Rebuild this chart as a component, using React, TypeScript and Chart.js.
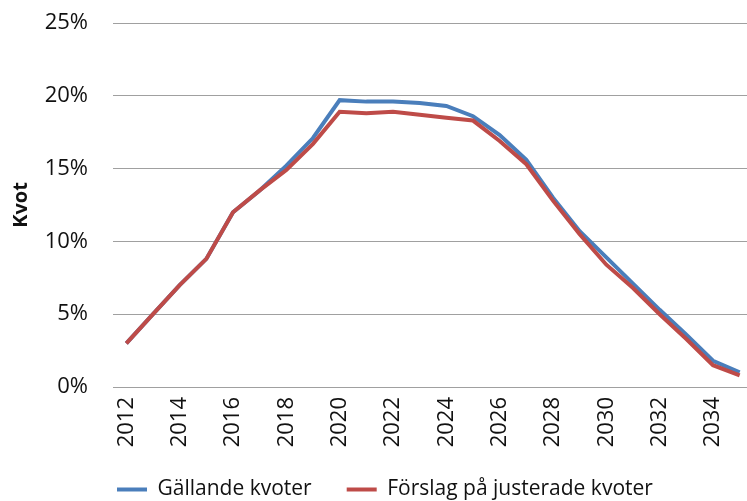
import { useEffect, useRef } from 'react';
import { Chart, registerables } from 'chart.js';

Chart.register(...registerables);

const years = [
  '2012', '2013', '2014', '2015', '2016', '2017', '2018', '2019', '2020', '2021', '2022', '2023',
  '2024', '2025', '2026', '2027', '2028', '2029', '2030', '2031', '2032', '2033', '2034', '2035',
];
const gallandeKvoter = [
  3.0, 5.0, 7.0, 8.8, 12.0, 13.5, 15.2, 17.1, 19.7, 19.6, 19.6, 19.5,
  19.3, 18.6, 17.3, 15.6, 13.0, 10.7, 8.9, 7.1, 5.3, 3.6, 1.8, 1.0,
];
const forslagKvoter = [
  3.0, 5.0, 7.0, 8.8, 12.0, 13.5, 14.9, 16.7, 18.9, 18.8, 18.9, 18.7,
  18.5, 18.3, 16.9, 15.3, 12.8, 10.5, 8.4, 6.8, 5.0, 3.3, 1.5, 0.8,
];
const yMin = 0;
const yMax = 25;
const yStep = 5;

const FONT = "'Open Sans', 'Liberation Sans', sans-serif";

const legendPlace = {
  id: 'legendPlace',
  afterLayout(chart: any) {
    const lg = chart.legend;
    if (!lg) return;
    const w = lg.right - lg.left;
    lg.left = 82;
    lg.right = 82 + w;
    lg.top = 444;
    lg.bottom = 501;
    lg.height = 57;
  },
};

export default function App() {
  const ref = useRef<HTMLCanvasElement | null>(null);

  useEffect(() => {
    if (!ref.current) return;
    const chart = new Chart(ref.current, {
      type: 'line',
      data: {
        labels: years,
        datasets: [
          {
            label: 'Gällande kvoter',
            data: gallandeKvoter,
            borderColor: '#4a7ebb',
            backgroundColor: '#4a7ebb',
            borderWidth: 4,
            pointRadius: 0,
            tension: 0,
            order: 1,
          },
          {
            label: 'Förslag på justerade kvoter',
            data: forslagKvoter,
            borderColor: '#be4b48',
            backgroundColor: '#be4b48',
            borderWidth: 4,
            pointRadius: 0,
            tension: 0,
            order: 0,
          },
        ],
      },
      options: {
        responsive: false,
        animation: false,
        layout: { padding: { top: 23, left: 0, right: 7, bottom: 0 } },
        plugins: {
          tooltip: { enabled: false },
          legend: {
            position: 'bottom',
            align: 'start',
            maxHeight: 44,
            labels: {
              boxWidth: 30,
              boxHeight: 4,
              padding: 35,
              color: '#111',
              font: { family: FONT, size: 21 },
              sort: (a: any, b: any) => a.datasetIndex - b.datasetIndex,
              generateLabels: (c: any) =>
                Chart.defaults.plugins.legend.labels.generateLabels(c).map((it: any) => ({
                  ...it,
                  fillStyle: it.strokeStyle,
                  lineWidth: 0,
                })),
            },
          },
        },
        scales: {
          x: {
            offset: true,
            grid: { display: false, drawTicks: false },
            border: { display: false },
            afterFit: (s: any) => {
              s.height = 70;
              s.paddingLeft = 0;
              s.paddingRight = 0;
            },
            ticks: {
              autoSkip: false,
              minRotation: 90,
              maxRotation: 90,
              padding: 10,
              color: '#111',
              font: { family: FONT, size: 22 },
              callback: (_v: any, i: number) => (i % 2 === 0 ? years[i] : ''),
            },
          },
          y: {
            min: yMin,
            max: yMax,
            grid: { color: '#a0a0a0', lineWidth: 1, drawTicks: false },
            border: { display: false },
            afterFit: (s: any) => {
              s.width = 113;
              s.paddingTop = 0;
              s.paddingBottom = 0;
            },
            ticks: {
              stepSize: yStep,
              padding: 25,
              color: '#111',
              font: { family: FONT, size: 22 },
              callback: (v: any) => `${v}%`,
            },
            title: {
              display: true,
              text: 'Kvot',
              color: '#111',
              padding: { top: 9, bottom: 0 },
              font: { family: FONT, size: 20, weight: 'bold' },
            },
          },
        },
      },
      plugins: [legendPlace],
    });
    return () => chart.destroy();
  }, []);

  return (
    <div
      style={{
        position: 'absolute',
        left: 0,
        top: 0,
        width: 747,
        height: 501,
        overflow: 'hidden',
        background: '#fff',
      }}
    >
      <canvas ref={ref} width={760} height={501} style={{ display: 'block', width: 760, height: 501 }} />
    </div>
  );
}
